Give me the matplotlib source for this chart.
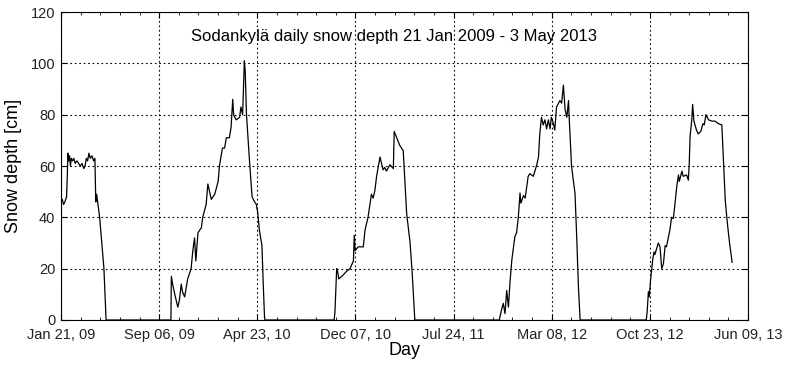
import numpy as np
import pandas as pd
import matplotlib
matplotlib.use("Agg")
import matplotlib.pyplot as plt
import matplotlib.dates as mdates

# snow depth, one list per winter
w09_dates = ["2009-01-21", "2009-01-24", "2009-01-27", "2009-01-30", "2009-02-03", "2009-02-05",
             "2009-02-06", "2009-02-08", "2009-02-10", "2009-02-12", "2009-02-14", "2009-02-17",
             "2009-02-20", "2009-02-23", "2009-02-27", "2009-03-03", "2009-03-07", "2009-03-11",
             "2009-03-15", "2009-03-18", "2009-03-21", "2009-03-24", "2009-03-27", "2009-03-30",
             "2009-04-03", "2009-04-07", "2009-04-10", "2009-04-12", "2009-04-14", "2009-04-17",
             "2009-04-21", "2009-04-25", "2009-05-01", "2009-05-04", "2009-05-06"]
w09_depth = [46, 47, 45, 46, 48, 58,
             65, 62, 64, 60, 63, 62,
             63, 61, 62, 61, 60, 61,
             59, 60, 63, 62, 65, 63,
             64, 62, 63, 46, 49, 45,
             40, 32, 20, 8, 0]

w10_dates = ["2009-10-04", "2009-10-05", "2009-10-08", "2009-10-13", "2009-10-20", "2009-10-24",
             "2009-10-28", "2009-10-31", "2009-11-05", "2009-11-08", "2009-11-12", "2009-11-20",
             "2009-11-24", "2009-11-28", "2009-12-01", "2009-12-06", "2009-12-14", "2009-12-17",
             "2009-12-25", "2009-12-29", "2010-01-02", "2010-01-06", "2010-01-14", "2010-01-22",
             "2010-01-25", "2010-02-01", "2010-02-06", "2010-02-10", "2010-02-17", "2010-02-21",
             "2010-02-25", "2010-02-27", "2010-03-05", "2010-03-13", "2010-03-16", "2010-03-20",
             "2010-03-24", "2010-03-26", "2010-03-29", "2010-04-05", "2010-04-11", "2010-04-17",
             "2010-04-21", "2010-04-24", "2010-04-28", "2010-05-04", "2010-05-07", "2010-05-10",
             "2010-05-11"]
w10_depth = [0, 17, 14, 10, 5, 8,
             14, 11, 9, 12, 16, 20,
             27, 32, 23, 34, 36, 40,
             45, 53, 50, 47, 49, 54,
             60, 67, 67, 71, 71, 75,
             86, 80, 78, 79, 83, 80,
             101, 97, 80, 62, 48, 46,
             45, 42, 35, 29, 14, 1,
             0]

w11_dates = ["2010-10-19", "2010-10-21", "2010-10-23", "2010-10-25", "2010-10-26", "2010-10-30",
             "2010-11-09", "2010-11-17", "2010-11-25", "2010-12-03", "2010-12-05", "2010-12-07",
             "2010-12-14", "2010-12-26", "2010-12-30", "2011-01-06", "2011-01-14", "2011-01-18",
             "2011-01-22", "2011-01-26", "2011-02-03", "2011-02-10", "2011-02-14", "2011-02-18",
             "2011-02-26", "2011-03-06", "2011-03-08", "2011-03-14", "2011-03-21", "2011-03-29",
             "2011-04-06", "2011-04-14", "2011-04-19", "2011-04-25"]
w11_depth = [0, 3, 12, 20, 20, 16,
             17.5, 19, 20, 23, 33, 27,
             28.5, 28.5, 35, 40, 49, 47.5,
             50.5, 56, 63.5, 58.5, 59.5, 58,
             60.5, 59, 73.5, 71, 68, 66,
             41.5, 30, 18, 0]

w12_dates = ["2011-11-08", "2011-11-09", "2011-11-13", "2011-11-17", "2011-11-21", "2011-11-25",
             "2011-11-29", "2011-12-03", "2011-12-07", "2011-12-14", "2011-12-18", "2011-12-22",
             "2011-12-26", "2011-12-28", "2012-01-03", "2012-01-07", "2012-01-14", "2012-01-18",
             "2012-01-26", "2012-02-03", "2012-02-07", "2012-02-10", "2012-02-14", "2012-02-18",
             "2012-02-22", "2012-02-26", "2012-03-01", "2012-03-05", "2012-03-08", "2012-03-12",
             "2012-03-16", "2012-03-20", "2012-03-28", "2012-04-01", "2012-04-05", "2012-04-09",
             "2012-04-13", "2012-04-17", "2012-04-18", "2012-04-24", "2012-04-28", "2012-05-02",
             "2012-05-06", "2012-05-10", "2012-05-14"]
w12_depth = [0, 1, 4, 6.5, 2.5, 11.5,
             5, 15.5, 23.5, 32.5, 34, 40,
             49.5, 45.5, 48.5, 47.5, 56, 57,
             56, 60.5, 63.5, 72.5, 79, 76,
             78, 74.5, 78, 74.5, 79, 77,
             74, 83, 85.5, 84.5, 91.5, 82,
             79, 85.5, 80.5, 60, 54.5, 49.5,
             32.5, 13, 0]

w13_dates = ["2012-10-15", "2012-10-17", "2012-10-20", "2012-10-22", "2012-10-25", "2012-10-30",
             "2012-11-02", "2012-11-04", "2012-11-12", "2012-11-16", "2012-11-20", "2012-11-24",
             "2012-11-28", "2012-12-01", "2012-12-09", "2012-12-13", "2012-12-17", "2012-12-21",
             "2012-12-25", "2012-12-29", "2012-12-31", "2013-01-06", "2013-01-09", "2013-01-17",
             "2013-01-21", "2013-01-23", "2013-01-25", "2013-01-29", "2013-01-31", "2013-02-03",
             "2013-02-09", "2013-02-13", "2013-02-19", "2013-02-24", "2013-02-27", "2013-03-03",
             "2013-03-09", "2013-03-17", "2013-03-24", "2013-04-01", "2013-04-09", "2013-04-13",
             "2013-04-17", "2013-04-22", "2013-04-27", "2013-05-03"]
w13_depth = [0, 3, 11, 9, 15.5, 23.5,
             26.5, 25.5, 30, 28.5, 20, 22,
             29, 28.5, 35, 40, 39.5, 45.5,
             52, 56.5, 54, 58, 56, 56.5,
             54.5, 60.5, 71.5, 78, 84, 77.5,
             74, 72.5, 73.5, 76.5, 76, 80,
             78, 77.5, 77.5, 76.5, 76, 61,
             46.5, 37.5, 30, 22.5]

start_day = "2009-01-21"
end_day = "2013-06-09"
title_text = "Sodankylä daily snow depth 21 Jan 2009 - 3 May 2013"

dates = pd.to_datetime(w09_dates + w10_dates + w11_dates + w12_dates + w13_dates)
depth = np.array(w09_depth + w10_depth + w11_depth + w12_depth + w13_depth, dtype=float)

plt.rcParams['font.family'] = ['Liberation Sans', 'DejaVu Sans']

fig = plt.figure(figsize=(7.85, 3.65), dpi=100)
ax = fig.add_axes([0.0777, 0.1233, 0.8752, 0.8437])

ax.plot(dates, depth, color="black", linewidth=0.9, zorder=2)

x0 = mdates.date2num(pd.Timestamp(start_day))
x1 = mdates.date2num(pd.Timestamp(end_day))
ax.set_xlim(x0, x1)
ax.set_ylim(0, 120)

# 8 evenly spaced date ticks like matlab's datetick, 4 minor ticks between
major = np.linspace(x0, x1, 8)
ax.set_xticks(major)
ax.set_xticklabels([mdates.num2date(np.floor(v)).strftime("%b %d, %y") for v in major])
ax.set_xticks(np.linspace(x0, x1, 36), minor=True)
ax.set_yticks(np.arange(0, 121, 20))

ax.tick_params(which="both", direction="in", top=True, right=True, labelsize=10.5, pad=4,
               labelcolor="#222222")
ax.tick_params(axis="x", pad=6)
ax.tick_params(which="major", length=4)
ax.tick_params(which="minor", length=2.5)
ax.grid(True, which="major", linestyle=(0, (1.5, 2.5)), color="black", linewidth=0.8)

ax.set_xlabel("Day", fontsize=13, labelpad=0)
ax.set_ylabel("Snow depth [cm]", fontsize=13, labelpad=6)
ax.text(0.485, 0.92, title_text, transform=ax.transAxes, ha="center", va="center", fontsize=12)

for s in ax.spines.values():
    s.set_linewidth(0.8)
    s.set_zorder(3)

fig.savefig("out.png", dpi=100)
